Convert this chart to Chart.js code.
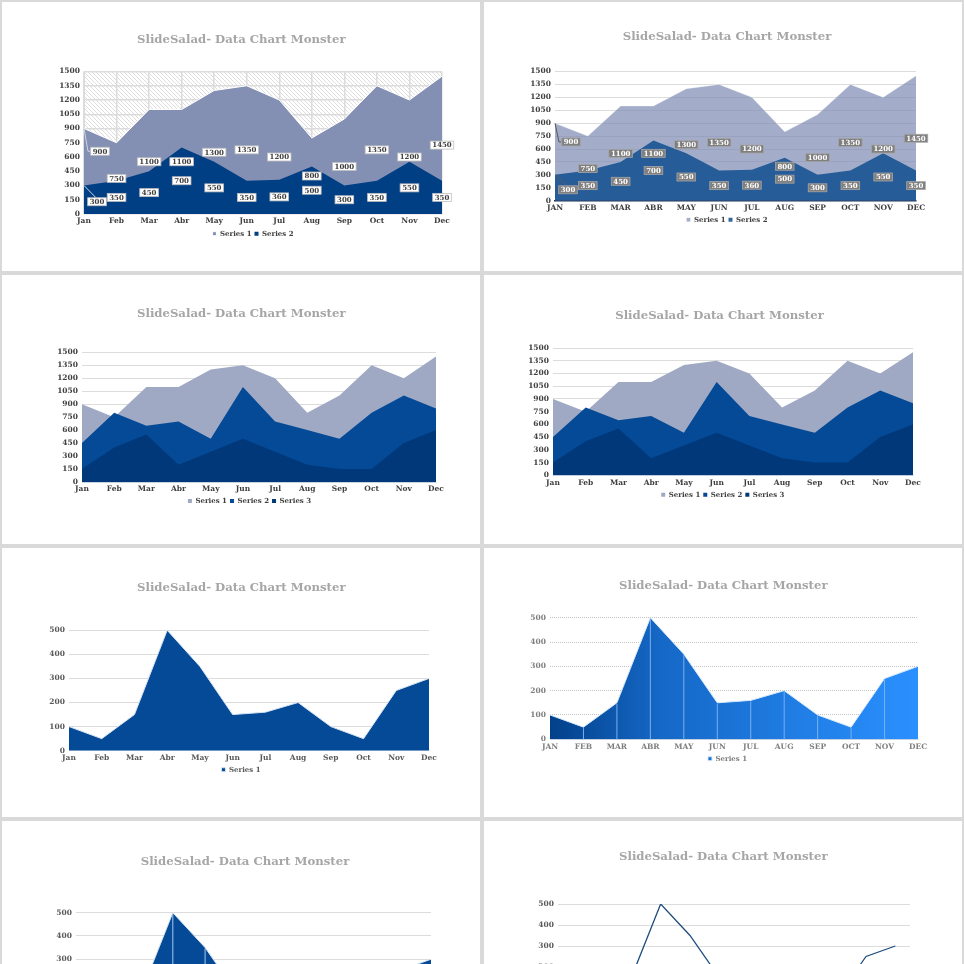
<!DOCTYPE html>
<html>
<head>
<meta charset="utf-8">
<style>
  html, body { margin: 0; padding: 0; width: 964px; height: 964px; overflow: hidden; background: #d9d9d9; }
  .panel { position: absolute; width: 478px; height: 269px; background: #fff; }
  .panel canvas { display: block; }
</style>
<script src="https://cdn.jsdelivr.net/npm/chart.js@4"></script>
</head>
<body>
<script>
// data
const titleText = 'SlideSalad- Data Chart Monster';
const months = ['Jan', 'Feb', 'Mar', 'Abr', 'May', 'Jun', 'Jul', 'Aug', 'Sep', 'Oct', 'Nov', 'Dec'];
const monthsUpper = ['JAN', 'FEB', 'MAR', 'ABR', 'MAY', 'JUN', 'JUL', 'AUG', 'SEP', 'OCT', 'NOV', 'DEC'];
const seriesNames = ['Series 1', 'Series 2', 'Series 3'];

const twoSeriesA = [900, 750, 1100, 1100, 1300, 1350, 1200, 800, 1000, 1350, 1200, 1450];
const twoSeriesB = [300, 350, 450, 700, 550, 350, 360, 500, 300, 350, 550, 350];
const threeSeriesB = [450, 800, 650, 700, 500, 1100, 700, 600, 500, 800, 1000, 850];
const threeSeriesC = [150, 400, 550, 200, 350, 500, 350, 200, 150, 150, 450, 600];
const singleSeries = [100, 50, 150, 500, 350, 150, 160, 200, 100, 50, 250, 300];

const FONT = '"DejaVu Serif", serif';

// one entry per slide: where it sits and how it looks
const panels = [
  { x: 2, y: 2, plot: [84, 71.5, 442, 214], titleAt: [241.3, 39], legendAt: [253, 232.7], labels: months, max: 1500, step: 150,
    data: [twoSeriesA, twoSeriesB], fills: ['#8490b3', '#003f84'], edge: '#ffffff', text: '#404040',
    hatch: true, vGrid: true, boxes: { bg: '#ffffff', line: '#bfbfbf', color: '#404040', leader: '#d0d4e0' } },
  { x: 484, y: 2, plot: [555, 71.5, 916, 200.7], titleAt: [727, 35.7], legendAt: [727, 218.7], labels: monthsUpper, max: 1500, step: 150,
    data: [twoSeriesA, twoSeriesB], fills: ['rgba(124,137,178,0.7)', 'rgba(20,80,145,0.87)'], edge: 'rgba(255,255,255,0.35)', text: '#404040',
    axisLine: '#1c3554', boxes: { bg: '#7f7f7f', line: '#a6a6a6', color: '#ffffff', leader: '#595959' } },
  { x: 2, y: 275, plot: [82, 352.3, 436, 482], titleAt: [241.3, 313.3], legendAt: [249.5, 500], labels: months, max: 1500, step: 150,
    data: [twoSeriesA, threeSeriesB, threeSeriesC], fills: ['#a0a9c4', '#044a96', '#00387a'], text: '#404040' },
  { x: 484, y: 275, plot: [553, 348, 913, 475.3], titleAt: [719.5, 315.3], legendAt: [722.8, 493.7], labels: months, max: 1500, step: 150,
    data: [twoSeriesA, threeSeriesB, threeSeriesC], fills: ['#a0a9c4', '#044a96', '#00387a'], text: '#404040' },
  { x: 2, y: 548, plot: [69, 630.3, 429, 750.7], titleAt: [241.3, 586.7], legendAt: [241, 768.7], labels: months, max: 500, step: 100,
    data: [singleSeries], fills: ['#044a96'], edge: '#d5e3f3', text: '#595959' },
  { x: 484, y: 548, plot: [550, 617.7, 918, 739.3], titleAt: [723.3, 585.3], legendAt: [727.5, 757.7], labels: monthsUpper, max: 500, step: 100,
    data: [singleSeries], gradient: ['#02408a', '#2a90ff'], edge: '#d5e8fb', text: '#7f7f7f', dottedGrid: true, drops: '#79b0ef' },
  { x: 2, y: 821, plot: [76, 912.7, 431, 1029], titleAt: [245, 861.3], legendAt: [245, 1047], labels: months, max: 500, step: 100,
    data: [singleSeries], fills: ['#044a96'], edge: '#d5e3f3', text: '#595959', drops: '#a9c8ec' },
  { x: 484, y: 821, plot: [558, 904, 910, 1009], titleAt: [723.3, 855.7], legendAt: [723.3, 1027], labels: months, max: 500, step: 100,
    data: [singleSeries], lineOnly: '#1f4e7e', text: '#595959' }
];

// diagonal hatching behind the first slide's plot
function hatchPattern() {
  const tile = document.createElement('canvas');
  tile.width = 4;
  tile.height = 4;
  const c = tile.getContext('2d');
  c.fillStyle = '#fff';
  c.fillRect(0, 0, 4, 4);
  c.strokeStyle = '#cfcfcf';
  c.lineWidth = 0.7;
  c.beginPath();
  c.moveTo(-1, -1); c.lineTo(5, 5);
  c.moveTo(-1, 3); c.lineTo(1, 5);
  c.moveTo(3, -1); c.lineTo(5, 1);
  c.stroke();
  return tile;
}

// Title and legend come out centred on the box the library gives them, the slides have them elsewhere
function placeTextPlugin(p) {
  return {
    id: 'placeText',
    afterLayout(chart) {
      const tb = chart.titleBlock;
      const titleDx = p.titleAt[0] - p.x - (tb.left + tb.right) / 2;
      tb.left += titleDx;
      tb.right += titleDx;
      const lg = chart.legend;
      const legendDx = p.legendAt[0] - p.x - (lg.left + lg.right) / 2;
      const h = lg.height;
      lg.left += legendDx;
      lg.right += legendDx;
      lg.top = p.legendAt[1] - p.y - h / 2 + 4.5;
      lg.bottom = lg.top + h;
    }
  };
}

const hatchPlugin = {
  id: 'plotHatch',
  beforeDraw(chart) {
    const a = chart.chartArea;
    const ctx = chart.ctx;
    ctx.save();
    ctx.fillStyle = ctx.createPattern(hatchPattern(), 'repeat');
    ctx.fillRect(a.left, a.top, a.width, a.height);
    ctx.restore();
  }
};

// light vertical lines from each point down to the axis
function dropLinePlugin(color) {
  return {
    id: 'dropLines',
    afterDatasetsDraw(chart) {
      const ctx = chart.ctx;
      ctx.save();
      ctx.strokeStyle = color;
      ctx.lineWidth = 1;
      chart.getDatasetMeta(0).data.forEach((pt, i) => {
        if (i === 0 || i === 11) return;
        ctx.beginPath();
        ctx.moveTo(pt.x, pt.y + 1);
        ctx.lineTo(pt.x, chart.chartArea.bottom);
        ctx.stroke();
      });
      ctx.restore();
    }
  };
}

// value boxes sit half way up each area, the Jan ones are pulled off the axis with a leader line
const janShift = [[16, -20], [13, 2]];
function valueBoxPlugin(style) {
  return {
    id: 'valueBoxes',
    afterDatasetsDraw(chart) {
      const ctx = chart.ctx;
      const yScale = chart.scales.y;
      ctx.save();
      ctx.font = 'bold 7px ' + FONT;
      ctx.textAlign = 'center';
      ctx.textBaseline = 'middle';
      chart.data.datasets.forEach((ds, d) => {
        const pts = chart.getDatasetMeta(d).data;
        ds.data.forEach((v, i) => {
          let x = pts[i].x;
          let y = yScale.getPixelForValue(v / 2);
          if (i === 0) {
            x += janShift[d][0];
            y += janShift[d][1];
            ctx.strokeStyle = style.leader;
            ctx.lineWidth = 1;
            ctx.beginPath();
            ctx.moveTo(pts[i].x, pts[i].y);
            if (d === 0) {
              ctx.lineTo(pts[i].x + 4, y);
              ctx.lineTo(x - 10, y);
            } else {
              ctx.lineTo(x - 1, y - 4);
            }
            ctx.stroke();
          }
          const w = ctx.measureText(String(v)).width + 4;
          ctx.fillStyle = style.bg;
          ctx.strokeStyle = style.line;
          ctx.lineWidth = 0.8;
          ctx.fillRect(x - w / 2, y - 4, w, 8);
          ctx.strokeRect(x - w / 2, y - 4, w, 8);
          ctx.fillStyle = style.color;
          ctx.fillText(String(v), x, y + 0.5);
        });
      });
      ctx.restore();
    }
  };
}

function buildDatasets(p) {
  return p.data.map((values, i) => {
    const base = { label: seriesNames[i], data: values, pointRadius: 0, tension: 0, order: p.data.length - i };
    if (p.lineOnly) {
      return { ...base, fill: false, borderColor: p.lineOnly, backgroundColor: p.lineOnly, borderWidth: 1.3 };
    }
    let background = p.fills ? p.fills[i] : null;
    if (p.gradient) {
      background = ctx => {
        const a = ctx.chart.chartArea;
        if (!a) return p.gradient[1];
        const g = ctx.chart.ctx.createLinearGradient(a.left, 0, a.right, 0);
        g.addColorStop(0, p.gradient[0]);
        g.addColorStop(0.3, '#1568c6');
        g.addColorStop(1, p.gradient[1]);
        return g;
      };
    }
    // only the back series carries the pale outline
    const edged = p.edge && i === 0;
    return { ...base, fill: 'origin', backgroundColor: background, borderColor: edged ? p.edge : 'rgba(0,0,0,0)', borderWidth: edged ? 1 : 0 };
  });
}

panels.forEach(p => {
  const box = document.createElement('div');
  box.className = 'panel';
  box.style.left = p.x + 'px';
  box.style.top = p.y + 'px';
  const canvas = document.createElement('canvas');
  canvas.width = 478;
  canvas.height = 269;
  box.appendChild(canvas);
  document.body.appendChild(box);

  const [left, top, right, bottom] = p.plot;
  const panelW = 478, panelH = 269;
  const titleSize = 11.7;
  const titleTop = p.titleAt[1] - p.y - titleSize * 0.6 + 1;

  const plugins = [placeTextPlugin(p)];
  if (p.hatch) plugins.push(hatchPlugin);
  if (p.drops) plugins.push(dropLinePlugin(p.drops));
  if (p.boxes) plugins.push(valueBoxPlugin(p.boxes));

  new Chart(canvas, {
    type: 'line',
    data: { labels: p.labels, datasets: buildDatasets(p) },
    options: {
      responsive: false,
      animation: false,
      devicePixelRatio: 1,
      layout: { padding: { left: 0, top: 0, right: panelW - (right - p.x), bottom: 0 } },
      scales: {
        x: {
          offset: !!p.lineOnly,
          grid: { display: !!p.vGrid, color: '#dcdcdc', lineWidth: 1.5, drawTicks: false, offset: false },
          border: { display: !!p.axisLine || !p.vGrid, color: p.axisLine || '#c8d3e2', width: p.axisLine ? 1.5 : 1 },
          ticks: { color: p.text, font: { family: FONT, size: 7.5, weight: 'bold' }, padding: 3, maxRotation: 0, autoSkip: false },
          afterFit(s) { s.height = panelH - (bottom - p.y) - s.chart.legend.height; }
        },
        y: {
          min: 0,
          max: p.max,
          grid: { color: p.dottedGrid ? '#c4c4c4' : '#dcdcdc', lineWidth: p.vGrid ? 1.5 : 1, drawTicks: false },
          border: { display: !!p.vGrid, color: '#dcdcdc', dash: p.dottedGrid ? [1, 1] : undefined },
          ticks: {
            stepSize: p.step,
            color: p.text,
            font: { family: FONT, size: 7.5, weight: 'bold' },
            padding: 4,
            callback: value => String(value)
          },
          afterFit(s) { s.width = left - p.x; }
        }
      },
      plugins: {
        title: {
          display: true,
          text: titleText,
          color: '#a6a6a6',
          font: { family: FONT, size: titleSize, weight: 'bold' },
          padding: { top: titleTop, bottom: (top - p.y) - titleTop - titleSize * 1.2 }
        },
        legend: {
          position: 'bottom',
          labels: {
            boxWidth: 4,
            boxHeight: 4,
            padding: 3,
            color: p.text,
            font: { family: FONT, size: 7, weight: 'bold' },
            sort: (a, b) => a.datasetIndex - b.datasetIndex
          }
        },
        tooltip: { enabled: false }
      }
    },
    plugins: plugins
  });
});
</script>
</body>
</html>
